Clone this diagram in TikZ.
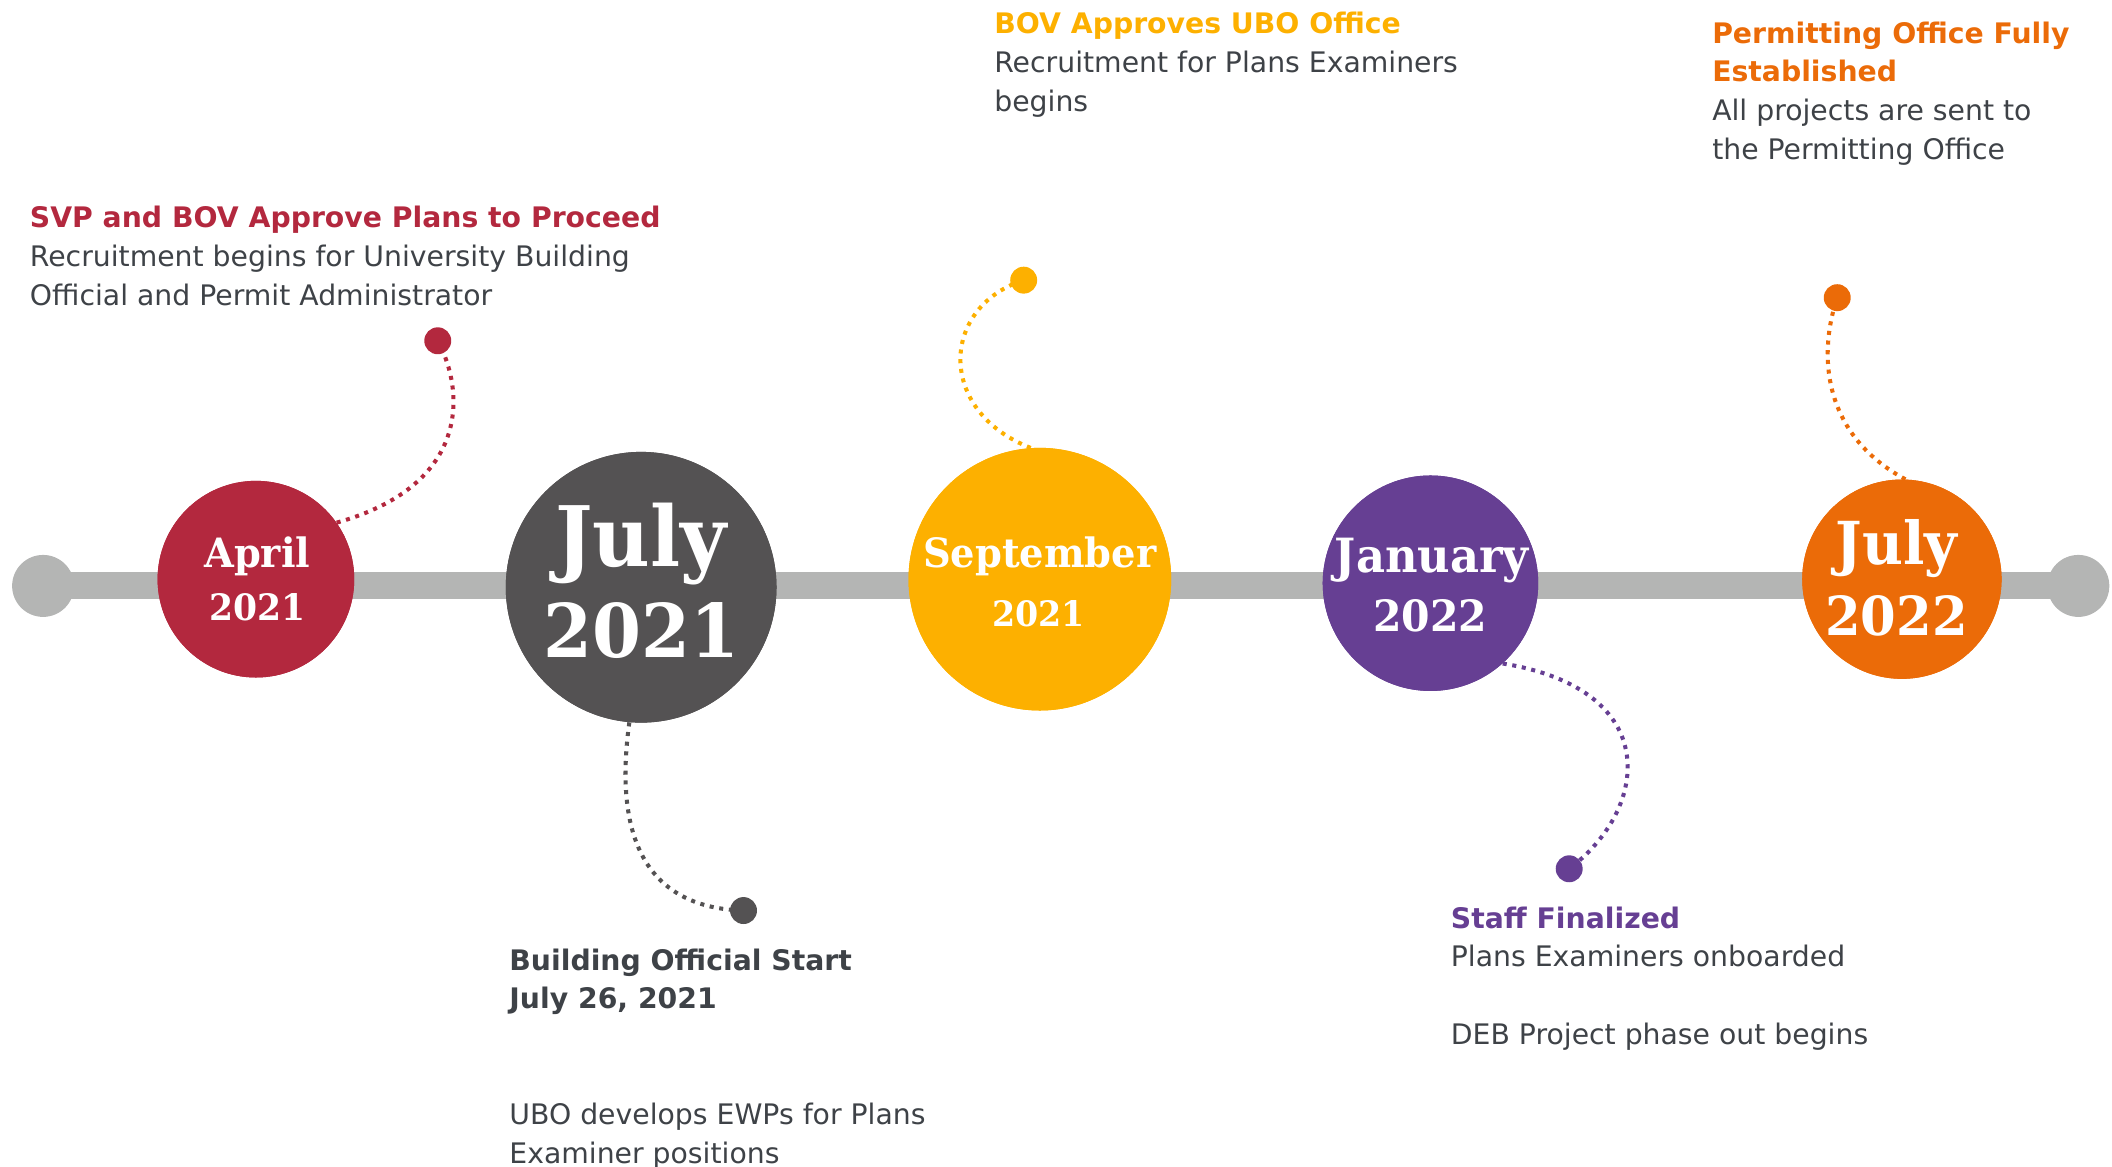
\documentclass[tikz,border=0pt]{standalone}
\usepackage{fontspec}
\setmainfont{DejaVu Sans}
\newfontfamily\datefont{DejaVu Serif}[FakeStretch=0.95]
\definecolor{linegray}{HTML}{B4B5B4}
\definecolor{txtgray}{HTML}{3E4247}
\definecolor{crimson}{HTML}{B3283E}
\definecolor{darkgray}{HTML}{545253}
\definecolor{gold}{HTML}{FDB000}
\definecolor{purp}{HTML}{663F93}
\definecolor{orng}{HTML}{EB6B08}
\tikzset{
  datecirc/.style={circle,inner sep=0pt,text=white,align=center,font=\datefont\bfseries},
  enddot/.style={circle,fill=linegray,inner sep=0pt,minimum size=46pt},
  pindot/.style={circle,inner sep=0pt,minimum size=20pt},
  link/.style={line width=3pt,dash pattern=on 3pt off 4.2pt},
  note/.style={anchor=north west,inner sep=0pt,align=left,text=txtgray,font=\fontsize{21}{28.7}\selectfont},
}
\begin{document}
\begin{tikzpicture}[x=1pt,y=-1pt]
\useasboundingbox (0,0) rectangle (1568,866);
% axis
\node[enddot] (e1) at (32,435) {};
\node[enddot] (e2) at (1543,435) {};
\draw[linegray,line width=20pt] (e1.center) -- (e2.center);
% pin dots (positions)
\coordinate (pa) at (325,253);
\coordinate (pb) at (552,676);
\coordinate (pc) at (760,208);
\coordinate (pd) at (1165,645);
\coordinate (pe) at (1364,221);
% date circles
\node[datecirc,fill=crimson,minimum size=146pt] (apr) at (190,430) {};
\node[datecirc,fill=darkgray,minimum size=201pt] (jul) at (476,436) {};
\node[datecirc,fill=gold,minimum size=195pt] (sep) at (772,430) {};
\node[datecirc,fill=purp,minimum size=160pt] (jan) at (1062,433) {};
\node[datecirc,fill=orng,minimum size=148pt] (juy) at (1412,430) {};
% connectors
\draw[link,crimson] (apr.35) .. controls (350,360) and (345,290) .. (pa);
\draw[link,darkgray] (jul.265) .. controls (455,625) and (482,674) .. (pb);
\draw[link,gold] (sep.94) .. controls (695,305) and (698,228) .. (pc);
\draw[link,purp] (jan.-48) .. controls (1235,512) and (1225,600) .. (pd);
\draw[link,orng] (juy.88) .. controls (1352,322) and (1350,262) .. (pe);
% redraw circles on top
\node[datecirc,fill=crimson,minimum size=146pt] at (apr) {};
\node[datecirc,fill=darkgray,minimum size=201pt] at (jul) {};
\node[datecirc,fill=gold,minimum size=195pt] at (sep) {};
\node[datecirc,fill=purp,minimum size=160pt] at (jan) {};
\node[datecirc,fill=orng,minimum size=148pt] at (juy) {};
\node[pindot,fill=crimson] (da) at (pa) {};
\node[pindot,fill=darkgray] (db) at (pb) {};
\node[pindot,fill=gold] (dc) at (pc) {};
\node[pindot,fill=purp] (dd) at (pd) {};
\node[pindot,fill=orng] (de) at (pe) {};
% date labels
\node[datecirc] (taprA) at (191,413) {\fontsize{30}{30}\selectfont April};
\node[datecirc] (taprB) at (191,451) {\fontsize{27}{27}\selectfont 2021};
\node[datecirc] (tjulA) at (476,404) {\fontsize{62}{62}\selectfont July};
\node[datecirc] (tjulB) at (476,468) {\fontsize{55}{55}\selectfont 2021};
\node[datecirc] (tsepA) at (772,413) {\fontsize{30}{30}\selectfont September};
\node[datecirc] (tsepB) at (771,456) {\fontsize{26}{26}\selectfont 2021};
\node[datecirc] (tjanA) at (1063,416) {\fontsize{35}{35}\selectfont January};
\node[datecirc] (tjanB) at (1062,457) {\fontsize{32}{32}\selectfont 2022};
\node[datecirc] (tjuyA) at (1408,407) {\fontsize{44}{44}\selectfont July};
\node[datecirc] (tjuyB) at (1408,457) {\fontsize{40}{40}\selectfont 2022};
% notes
\node[note] (na) at (22,153) {\textcolor{crimson}{\bfseries SVP and BOV Approve Plans to Proceed}\\Recruitment begins for University Building\\Official and Permit Administrator};
\node[note] (nc) at (738,9) {\textcolor{gold}{\bfseries BOV Approves UBO Office}\\Recruitment for Plans Examiners\\begins};
\node[note] (ne) at (1271,16) {\textcolor{orng}{\bfseries Permitting Office Fully}\\\textcolor{orng}{\bfseries Established}\\All projects are sent to\\the Permitting Office};
\node[note] (nd) at (1077,673) {\textcolor{purp}{\bfseries Staff Finalized}\\Plans Examiners onboarded\\[28.7pt]DEB Project phase out begins};
\node[note] (nb) at (378,704) {\textcolor{txtgray}{\bfseries Building Official Start}\\\textcolor{txtgray}{\bfseries July 26, 2021}\\[57.4pt]UBO develops EWPs for Plans\\Examiner positions};
\end{tikzpicture}
\end{document}
